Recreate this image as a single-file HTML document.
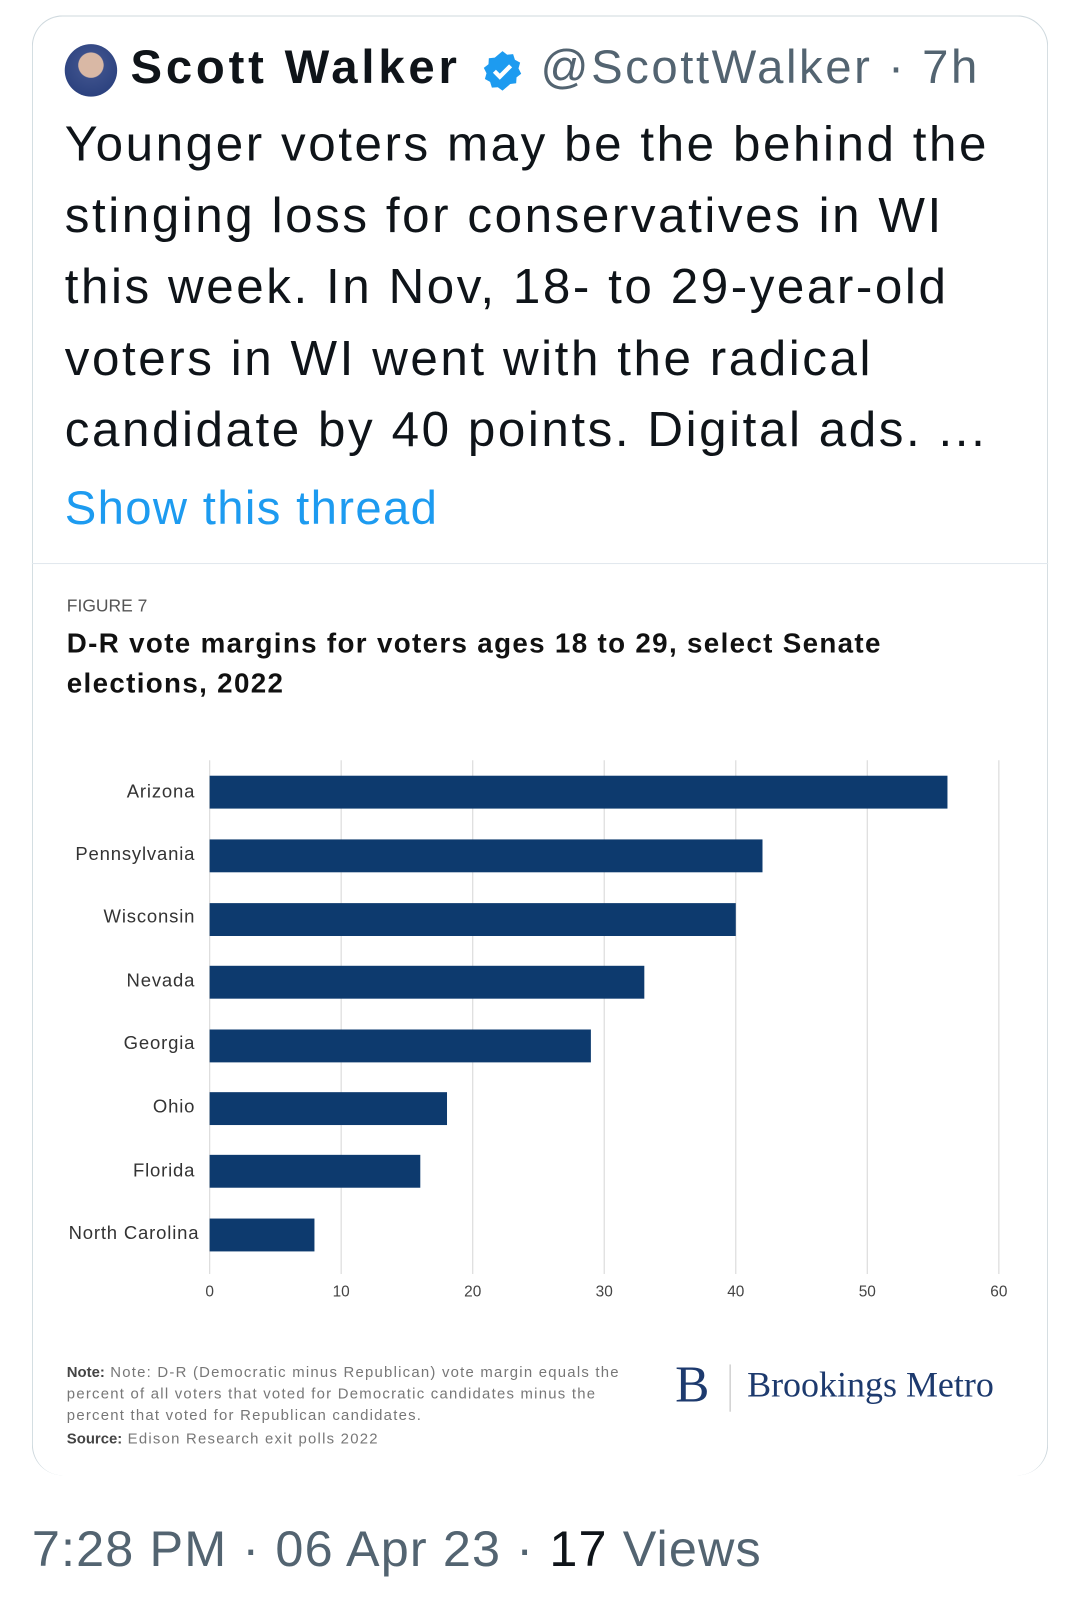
<!DOCTYPE html>
<html><head><meta charset="utf-8"><style>
html,body{margin:0;padding:0;background:#fff;width:1079px;height:1610px;overflow:hidden}
#w{position:absolute;left:0;top:0;width:1050px;height:1567px;transform:scale(1.02762,1.02744);transform-origin:0 0;font-family:"Liberation Sans",sans-serif}
.a{position:absolute;white-space:nowrap}
.body{font-size:48px;letter-spacing:2.5px;color:#0f1419;line-height:69.5px}
.lab{font-size:18px;letter-spacing:0.8px;color:#333;text-align:right;width:190px;left:0px}
.tk{font-size:15px;color:#444;width:30px;text-align:center;top:1249px}
</style></head><body><div id="w">
<div class="a" style="left:31px;top:15px;width:987px;height:1420px;border:1.5px solid #cfd9de;border-radius:30px;border-bottom:none"></div>
<div class="a" style="left:63px;top:43px;width:51px;height:51px;border-radius:50%;background:radial-gradient(circle at 50% 40%,#d9b8a5 0 30%,#3b4f8a 32%,#233a78 100%)"></div>
<div class="a" style="left:127px;top:38px;font-size:46px;letter-spacing:3.7px;font-weight:bold;color:#0f1419">Scott Walker</div>
<svg class="a" style="left:468px;top:48px" width="42" height="42" viewBox="0 0 24 24"><path fill="#1d9bf0" d="M12 1l2.6 2 3.3-.3 1 3.1 2.9 1.6-.9 3.2 1.5 3-2.6 2-.2 3.3-3.3.4L12 23l-2.6-1.9-3.3.2-1-3.2L2.2 16.5l.9-3.2L1.6 10.3l2.6-2 .2-3.3 3.3-.4z"/><path d="M7.5 12.2l3 3 6-6" stroke="#fff" stroke-width="2.4" fill="none"/></svg>
<div class="a" style="left:526px;top:38px;font-size:46px;letter-spacing:2.5px;color:#536471">@ScottWalker · 7h</div>
<div class="a body" style="left:63px;top:106px">Younger voters may be the behind the<br>stinging loss for conservatives in WI<br>this week. In Nov, 18- to 29-year-old<br>voters in WI went with the radical<br>candidate by 40 points. Digital ads. ...</div>
<div class="a" style="left:63px;top:467px;font-size:46px;letter-spacing:1.3px;color:#1d9bf0">Show this thread</div>
<div class="a" style="left:31px;top:548px;width:989px;height:1px;background:#e1e8ed"></div>
<div class="a" style="left:65px;top:580px;font-size:17px;color:#555">FIGURE 7</div>
<div class="a" style="left:65px;top:607px;font-size:27px;letter-spacing:1.3px;font-weight:bold;color:#111;line-height:39px">D-R vote margins for voters ages 18 to 29, select Senate<br>elections, 2022</div>
<svg class="a" style="left:0;top:0" width="1050" height="1567">
<g stroke="#ddd" stroke-width="1.2">
<line x1="204" y1="740" x2="204" y2="1240"/><line x1="332" y1="740" x2="332" y2="1240"/><line x1="460" y1="740" x2="460" y2="1240"/><line x1="588" y1="740" x2="588" y2="1240"/><line x1="716" y1="740" x2="716" y2="1240"/><line x1="844" y1="740" x2="844" y2="1240"/><line x1="972" y1="740" x2="972" y2="1240"/></g>
<g fill="#0d3a6e">
<rect x="204" y="755" width="718" height="32"/>
<rect x="204" y="817" width="538" height="32"/>
<rect x="204" y="879" width="512" height="32"/>
<rect x="204" y="940" width="423" height="32"/>
<rect x="204" y="1002" width="371" height="32"/>
<rect x="204" y="1063" width="231" height="32"/>
<rect x="204" y="1124" width="205" height="32"/>
<rect x="204" y="1186" width="102" height="32"/>
</g></svg>
<div class="a lab" style="top:760px">Arizona</div>
<div class="a lab" style="top:821px">Pennsylvania</div>
<div class="a lab" style="top:882px">Wisconsin</div>
<div class="a lab" style="top:944px">Nevada</div>
<div class="a lab" style="top:1005px">Georgia</div>
<div class="a lab" style="top:1067px">Ohio</div>
<div class="a lab" style="top:1129px">Florida</div>
<div class="a lab" style="top:1190px;left:4px">North Carolina</div>
<div class="a tk" style="left:189px">0</div><div class="a tk" style="left:317px">10</div><div class="a tk" style="left:445px">20</div><div class="a tk" style="left:573px">30</div><div class="a tk" style="left:701px">40</div><div class="a tk" style="left:829px">50</div><div class="a tk" style="left:957px">60</div>
<div class="a" style="left:65px;top:1326px;font-size:14.5px;letter-spacing:1.2px;color:#777;line-height:21px"><b style="color:#444;letter-spacing:0">Note:</b> Note: D-R (Democratic minus Republican) vote margin equals the<br>percent of all voters that voted for Democratic candidates minus the<br>percent that voted for Republican candidates.</div>
<div class="a" style="left:65px;top:1393px;font-size:14.5px;letter-spacing:1.2px;color:#777"><b style="color:#444;letter-spacing:0">Source:</b> Edison Research exit polls 2022</div>
<div class="a" style="left:657px;top:1318px;font-size:50px;color:#1d3a6e;font-family:'Liberation Serif',serif">B</div>
<div class="a" style="left:710px;top:1328px;width:1px;height:46px;background:#bbb"></div>
<div class="a" style="left:727px;top:1328px;font-size:35px;color:#1d3a6e;font-family:'Liberation Serif',serif">Brookings Metro</div>
<div class="a" style="left:31px;top:1480px;font-size:49px;letter-spacing:1.1px;color:#536471">7:28 PM · 06 Apr 23 · <span style="color:#0f1419">17</span> Views</div>
</div></body></html>
